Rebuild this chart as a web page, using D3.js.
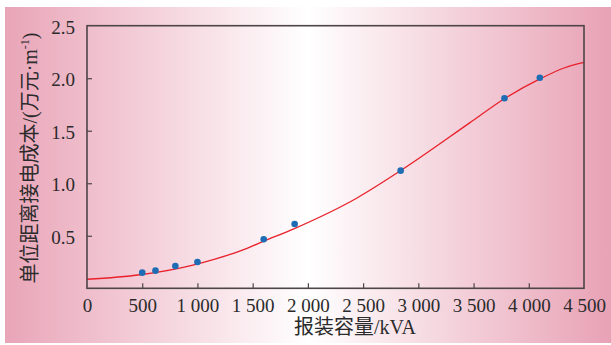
<!DOCTYPE html>
<html>
<head>
<meta charset="utf-8">
<script src="https://cdn.jsdelivr.net/npm/d3@7"></script>
<style>
  html, body { margin: 0; padding: 0; background: #fff; }
  svg { display: block; }
</style>
</head>
<body>
<svg id="chart" width="611" height="345"></svg>
<script>
// Installed capacity (kVA) vs. unit-distance connection cost (10k yuan per metre)
const capacity   = [500, 620, 800, 1000, 1600, 1880, 2840, 3780, 4100];
const unitCost   = [0.149, 0.168, 0.212, 0.250, 0.467, 0.612, 1.120, 1.809, 2.005];

// Fitted cost curve, sampled along the capacity axis
const fitCapacity = [0, 480, 996, 1449, 1591, 1883, 2445, 2840, 3468, 3782, 4101, 4313, 4500];
const fitCost     = [0.086, 0.129, 0.231, 0.381, 0.444, 0.571, 0.860, 1.120, 1.577, 1.807, 1.993, 2.095, 2.150];

const xTicks = [0, 500, 1000, 1500, 2000, 2500, 3000, 3500, 4000, 4500];
const yTicks = [0.5, 1.0, 1.5, 2.0, 2.5];

const svg = d3.select("#chart");
const W = 611;
const plot = { left: 87, right: 584, top: 25.7, bottom: 288.3 };

// background band: pink at both edges fading to white in the middle
const defs = svg.append("defs");
const grad = defs.append("linearGradient").attr("id", "bg").attr("x1", "0%").attr("x2", "100%");
grad.append("stop").attr("offset", "0%").attr("stop-color", "#e9a5b8");
grad.append("stop").attr("offset", "50%").attr("stop-color", "#ffffff");
grad.append("stop").attr("offset", "100%").attr("stop-color", "#e8a2b5");
svg.append("rect").attr("x", 5).attr("y", 7).attr("width", W - 5).attr("height", 336)
  .attr("fill", "url(#bg)");

const x = d3.scaleLinear().domain([0, 4500]).range([plot.left, plot.right]);
const y = d3.scaleLinear().domain([0, 2.5]).range([plot.bottom, plot.top]);

const serif = "'Liberation Serif', 'Times New Roman', serif";
const cjk = "'Liberation Serif', 'Noto Sans CJK SC', serif";

// fitted curve
const line = d3.line().x((d, i) => x(fitCapacity[i])).y((d, i) => y(fitCost[i]))
  .curve(d3.curveMonotoneX);
svg.append("path").datum(fitCost).attr("d", line)
  .attr("fill", "none").attr("stroke", "#e8212b").attr("stroke-width", 1.3);

// observed points
svg.append("g").selectAll("circle").data(capacity).join("circle")
  .attr("cx", d => x(d)).attr("cy", (d, i) => y(unitCost[i])).attr("r", 3.3)
  .attr("fill", "#1e6db4");

// x axis with inward ticks, thousands separated by a space
const xAxis = svg.append("g").attr("transform", `translate(0,${plot.bottom})`)
  .call(d3.axisBottom(x).tickValues(xTicks).tickSizeInner(-5).tickSizeOuter(0).tickPadding(9)
    .tickFormat(d => d3.format(",")(d).replace(",", " ")));
xAxis.select(".domain").remove();
xAxis.selectAll(".tick line").attr("stroke", "#4d4547").attr("stroke-width", 1.2)
  .filter(d => d === 0 || d === 4500).remove();
xAxis.selectAll(".tick text").attr("font-family", serif).attr("font-size", 19)
  .attr("fill", "#2b2b2b").attr("dy", "0.75em");

// y axis with inward ticks
const yAxis = svg.append("g").attr("transform", `translate(${plot.left},0)`)
  .call(d3.axisLeft(y).tickValues(yTicks).tickSizeInner(-5).tickSizeOuter(0).tickPadding(12)
    .tickFormat(d3.format(".1f")));
yAxis.select(".domain").remove();
yAxis.selectAll(".tick line").attr("stroke", "#4d4547").attr("stroke-width", 1.2)
  .filter(d => d === 2.5).remove();
yAxis.selectAll(".tick text").attr("font-family", serif).attr("font-size", 19)
  .attr("fill", "#2b2b2b").attr("dy", "0.4em");

// frame
svg.append("rect").attr("x", plot.left).attr("y", plot.top)
  .attr("width", plot.right - plot.left).attr("height", plot.bottom - plot.top)
  .attr("fill", "none").attr("stroke", "#4d4547").attr("stroke-width", 1.6);

// axis titles
svg.append("text").attr("x", 355).attr("y", 334).attr("text-anchor", "middle")
  .attr("font-family", cjk).attr("font-size", 20).attr("fill", "#2b2b2b")
  .text("报装容量/kVA");

const yt = svg.append("text").attr("transform", "translate(37,158) rotate(-90)")
  .attr("text-anchor", "middle").attr("font-family", cjk).attr("font-size", 20)
  .attr("fill", "#2b2b2b");
yt.append("tspan").text("单位距离接电成本/(万元·m");
yt.append("tspan").attr("font-size", 12).attr("dy", -8).text("-1");
yt.append("tspan").attr("dy", 8).text(")");
</script>
</body>
</html>
